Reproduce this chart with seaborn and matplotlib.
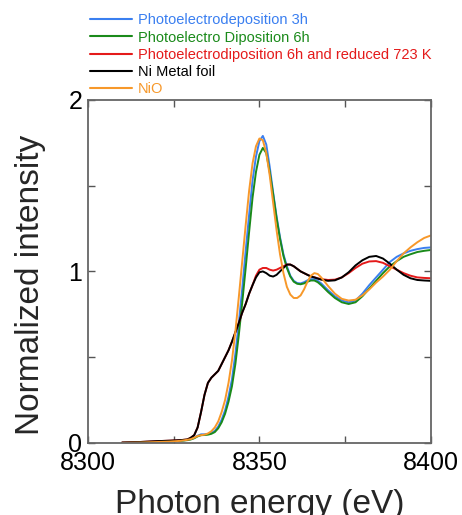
import numpy as np
import pandas as pd
import seaborn as sns
import matplotlib.pyplot as plt
from matplotlib.ticker import MultipleLocator

# energy grid (eV) shared by all spectra
energy = [8310, 8315, 8320, 8324, 8327, 8329, 8330, 8331, 8332, 8333, 8334,
          8335, 8336, 8337, 8338, 8339, 8340, 8341, 8342, 8343, 8344, 8345,
          8346, 8347, 8348, 8349, 8350, 8351, 8352, 8353, 8354, 8355, 8356,
          8357, 8358, 8359, 8360, 8361, 8362, 8363, 8364, 8365, 8366, 8367,
          8368, 8370, 8372, 8374, 8376, 8378, 8380, 8382, 8384, 8386, 8388,
          8390, 8392, 8394, 8396, 8398, 8400]

pe_3h = [0.0, 0.002, 0.005, 0.008, 0.012, 0.018, 0.022, 0.03, 0.042, 0.05, 0.05,
         0.052, 0.058, 0.07, 0.095, 0.135, 0.19, 0.27, 0.37, 0.52, 0.70, 0.90,
         1.12, 1.33, 1.53, 1.67, 1.76, 1.79, 1.74, 1.61, 1.46, 1.32, 1.20,
         1.10, 1.03, 0.975, 0.945, 0.932, 0.93, 0.937, 0.948, 0.955, 0.955, 0.945,
         0.93, 0.89, 0.855, 0.83, 0.82, 0.83, 0.87, 0.92, 0.965, 1.01, 1.055,
         1.085, 1.105, 1.12, 1.13, 1.137, 1.14]

pe_6h = [0.0, 0.002, 0.005, 0.008, 0.012, 0.016, 0.02, 0.027, 0.038, 0.045, 0.046,
         0.048, 0.053, 0.063, 0.085, 0.12, 0.17, 0.24, 0.33, 0.46, 0.63, 0.82,
         1.02, 1.23, 1.43, 1.58, 1.68, 1.72, 1.69, 1.58, 1.45, 1.31, 1.19,
         1.09, 1.02, 0.97, 0.94, 0.928, 0.925, 0.93, 0.94, 0.947, 0.947, 0.937,
         0.92, 0.88, 0.845, 0.82, 0.81, 0.82, 0.855, 0.90, 0.945, 0.99, 1.03,
         1.06, 1.085, 1.10, 1.113, 1.12, 1.125]

pe_6h_red = [0.002, 0.005, 0.01, 0.013, 0.016, 0.02, 0.03, 0.045, 0.09, 0.18, 0.28,
             0.35, 0.38, 0.40, 0.42, 0.46, 0.50, 0.54, 0.59, 0.645, 0.70, 0.76,
             0.81, 0.87, 0.92, 0.975, 1.01, 1.02, 1.02, 1.01, 1.005, 1.01, 1.02,
             1.03, 1.04, 1.04, 1.03, 1.015, 1.00, 0.99, 0.98, 0.972, 0.966, 0.96,
             0.955, 0.95, 0.952, 0.965, 0.99, 1.02, 1.045, 1.058, 1.06, 1.05, 1.03,
             1.01, 0.99, 0.975, 0.965, 0.962, 0.96]

ni_foil = [0.002, 0.005, 0.01, 0.013, 0.016, 0.02, 0.03, 0.045, 0.09, 0.18, 0.28,
           0.35, 0.38, 0.40, 0.42, 0.46, 0.50, 0.54, 0.59, 0.645, 0.70, 0.76,
           0.81, 0.87, 0.92, 0.965, 0.995, 1.00, 0.99, 0.975, 0.97, 0.98, 1.00,
           1.02, 1.04, 1.04, 1.03, 1.015, 1.00, 0.99, 0.98, 0.97, 0.965, 0.958,
           0.952, 0.945, 0.948, 0.965, 0.995, 1.035, 1.065, 1.085, 1.09, 1.075, 1.045,
           1.01, 0.98, 0.96, 0.95, 0.947, 0.945]

nio = [0.0, 0.002, 0.005, 0.008, 0.012, 0.018, 0.022, 0.03, 0.04, 0.045, 0.048,
       0.055, 0.068, 0.09, 0.125, 0.18, 0.25, 0.35, 0.48, 0.65, 0.85, 1.06,
       1.27, 1.47, 1.63, 1.73, 1.775, 1.765, 1.69, 1.56, 1.40, 1.24, 1.10,
       0.99, 0.91, 0.865, 0.845, 0.845, 0.86, 0.895, 0.94, 0.975, 0.99, 0.985,
       0.965, 0.915, 0.87, 0.84, 0.83, 0.835, 0.86, 0.895, 0.935, 0.97, 1.01,
       1.06, 1.105, 1.14, 1.17, 1.195, 1.21]

labels = ['Photoelectrodeposition 3h', 'Photoelectro Diposition 6h',
          'Photoelectrodiposition 6h and reduced 723 K', 'Ni Metal foil', 'NiO']
colors = ['#3a7ff0', '#1a8a1a', '#e41a1a', '#000000', '#f7982a']

series = [pe_3h, pe_6h, pe_6h_red, ni_foil, nio]
df = pd.concat([pd.DataFrame({'energy': energy, 'intensity': s, 'sample': lab})
                for s, lab in zip(series, labels)])

sns.set_style('ticks')
plt.rcParams['font.family'] = ['Liberation Sans', 'DejaVu Sans']

fig = plt.figure(figsize=(4.62, 5.15), dpi=100)
ax = fig.add_axes([0.190, 0.140, 0.743, 0.666])

sns.lineplot(data=df, x='energy', y='intensity', hue='sample',
             palette=dict(zip(labels, colors)), hue_order=labels,
             linewidth=1.4, ax=ax, legend=False)

ax.set_xlim(8300, 8400)
ax.set_ylim(0, 2)
ax.xaxis.set_major_locator(MultipleLocator(50))
ax.xaxis.set_minor_locator(MultipleLocator(25))
ax.yaxis.set_major_locator(MultipleLocator(1))
ax.yaxis.set_minor_locator(MultipleLocator(0.5))
ax.tick_params(which='both', direction='in', top=True, right=True,
               colors='#555555', labelcolor='black', labelsize=18,
               length=5, width=1)
ax.tick_params(axis='x', pad=6)
ax.tick_params(axis='y', pad=4)
for sp in ax.spines.values():
    sp.set_color('#666666')
    sp.set_linewidth(1.3)

ax.set_xlabel('Photon energy (eV)', fontsize=24, labelpad=10)
ax.set_ylabel('Normalized intensity', fontsize=24, labelpad=16)
ax.yaxis.label.set_y(0.462)

handles = [plt.Line2D([], [], color=c, lw=1.5) for c in colors]
leg = fig.legend(handles, labels, loc='upper left', bbox_to_anchor=(0.172, 0.994),
                 frameon=False, fontsize=10.5, handlelength=2.9,
                 handletextpad=0.4, labelspacing=0.22, borderaxespad=0.3)
for t, c in zip(leg.get_texts(), colors):
    t.set_color(c)

fig.savefig('out.png', dpi=100)
